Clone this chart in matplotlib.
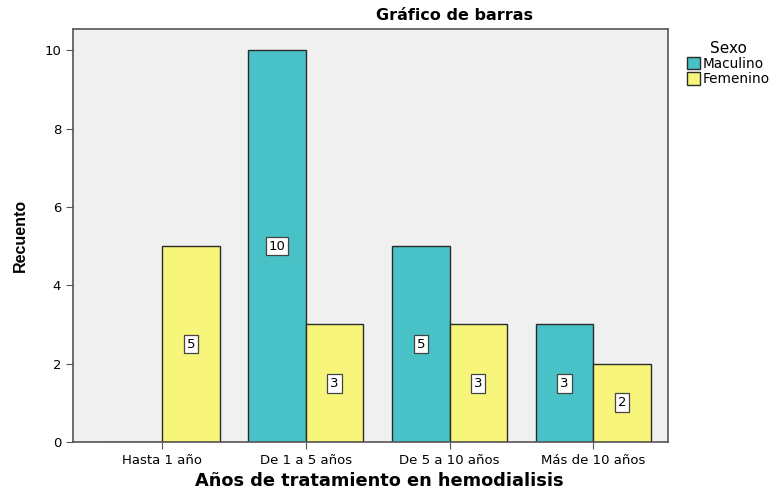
import matplotlib.pyplot as plt
import numpy as np

plt.rcParams['font.family'] = ['DejaVu Sans']

categories = ['Hasta 1 año', 'De 1 a 5 años', 'De 5 a 10 años', 'Más de 10 años']
masculino = [0, 10, 5, 3]
femenino = [5, 3, 3, 2]
series_names = ['Maculino', 'Femenino']

teal = '#48C2C6'
yellow = '#F8F67A'

fig = plt.figure(figsize=(7.73, 4.9), dpi=100)
ax = fig.add_axes([73/773, 48/490, (668-73)/773, (442-29)/490])
ax.set_facecolor('#F0F0F0')

x = np.arange(len(categories))
w = 0.40
b1 = ax.bar(x - w/2, masculino, w, color=teal, edgecolor='#2b2b2b', linewidth=1, label=series_names[0])
b2 = ax.bar(x + w/2, femenino, w, color=yellow, edgecolor='#2b2b2b', linewidth=1, label=series_names[1])

# value boxes in the middle of each bar
for bars, vals in ((b1, masculino), (b2, femenino)):
    for r, v in zip(bars, vals):
        if v == 0:
            continue
        ax.text(r.get_x() + r.get_width()/2, v/2, str(v), ha='center', va='center', fontsize=9.5,
                bbox=dict(boxstyle='square,pad=0.22', fc='white', ec='#444444', lw=0.9))

ax.set_xlim(-0.62, 3.52)
ax.set_ylim(0, 10.54)
ax.set_xticks(x)
ax.set_xticklabels(categories, fontsize=9.5)
ax.set_yticks([0, 2, 4, 6, 8, 10])
ax.tick_params(axis='y', labelsize=9.5, length=5, color='#555555')
ax.tick_params(axis='x', length=5, color='#555555')
for s in ax.spines.values():
    s.set_color('#555555')
    s.set_linewidth(1.2)

ax.set_ylabel('Recuento', fontsize=11.5, fontweight='bold', labelpad=12, family='Liberation Sans')
ax.set_xlabel('Años de tratamiento en hemodialisis', fontsize=12.8, fontweight='bold', va='center')
ax.xaxis.set_label_coords((379 - 73) / 595, (442 - 481) / 413)
fig.text(455/773, 1 - 15/490, 'Gráfico de barras', ha='center', va='center', fontsize=11.5, fontweight='bold')

leg = fig.legend(handles=[b1, b2], loc='upper left', bbox_to_anchor=(677/773, 1 - 31/490),
                 title='Sexo', frameon=False, fontsize=9.8, title_fontsize=11,
                 handlelength=1.0, handleheight=1.0, handletextpad=0.2, borderpad=0.2, labelspacing=0.1)

fig.savefig('out.png', dpi=100)
